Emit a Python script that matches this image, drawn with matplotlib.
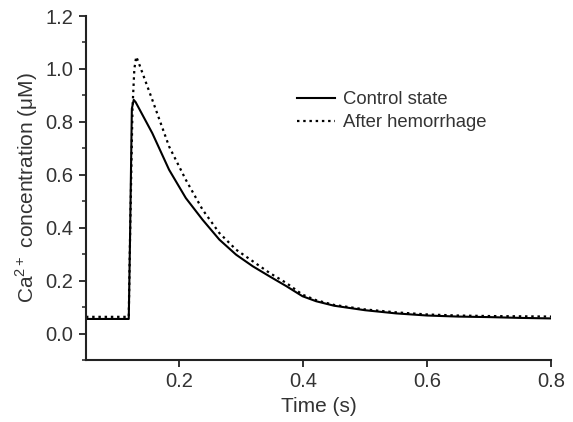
import numpy as np
import matplotlib
matplotlib.use("Agg")
import matplotlib.pyplot as plt
from matplotlib.ticker import MultipleLocator

plt.rcParams['font.family'] = ['Liberation Sans', 'DejaVu Sans']
plt.rcParams['mathtext.fontset'] = 'custom'
plt.rcParams['mathtext.rm'] = 'Liberation Sans'

# time (s) and Ca2+ concentration (uM)
t_control = [0.05, 0.119, 0.121, 0.124, 0.127, 0.13, 0.157, 0.184, 0.211, 0.238,
             0.265, 0.292, 0.319, 0.346, 0.373, 0.399, 0.421, 0.45, 0.5, 0.55,
             0.6, 0.65, 0.7, 0.75, 0.8]
control = [0.055, 0.055, 0.35, 0.85, 0.883, 0.875, 0.757, 0.619, 0.512, 0.430,
           0.355, 0.298, 0.254, 0.216, 0.179, 0.141, 0.122, 0.105, 0.088, 0.076,
           0.068, 0.064, 0.062, 0.059, 0.057]

t_hem = [0.05, 0.119, 0.121, 0.125, 0.128, 0.131, 0.134, 0.157, 0.184, 0.211,
         0.238, 0.265, 0.292, 0.319, 0.346, 0.373, 0.399, 0.421, 0.45, 0.5,
         0.55, 0.6, 0.65, 0.7, 0.75, 0.8]
hemorrhage = [0.063, 0.063, 0.35, 0.85, 1.0, 1.046, 1.03, 0.883, 0.707, 0.581,
              0.468, 0.38, 0.317, 0.273, 0.229, 0.191, 0.147, 0.126, 0.108, 0.091,
              0.08, 0.072, 0.068, 0.066, 0.065, 0.064]

txt = '#333333'
fig = plt.figure(figsize=(5.73, 4.22), dpi=100)
ax = fig.add_axes([0.150, 0.147, 0.812, 0.815])

ax.plot(t_control, control, color='black', lw=1.5, label='Control state')
ax.plot(t_hem, hemorrhage, color='black', lw=1.6, ls=(0, (1.1, 1.7)), label='After hemorrhage')

ax.set_xlim(0.05, 0.8)
ax.set_ylim(-0.1, 1.2)
ax.set_xticks([0.2, 0.4, 0.6, 0.8])
ax.yaxis.set_major_locator(MultipleLocator(0.2))
ax.yaxis.set_minor_locator(MultipleLocator(0.1))
ax.yaxis.set_major_formatter(plt.FuncFormatter(lambda v, p: f'{v:.1f}'))
ax.xaxis.set_major_formatter(plt.FuncFormatter(lambda v, p: f'{v:.1f}'))

for s in ['top', 'right']:
    ax.spines[s].set_visible(False)
for s in ['left', 'bottom']:
    ax.spines[s].set_linewidth(1.5)
    ax.spines[s].set_color('#222222')
ax.tick_params(which='major', length=5, width=1.3, labelsize=14.5, labelcolor=txt,
               color='#222222', pad=4)
ax.tick_params(which='minor', length=3, width=1.1, color='#222222')

ax.set_xlabel('Time (s)', fontsize=15, color=txt, labelpad=4)
ax.set_ylabel('Ca$^{2+}$ concentration (\u03bcM)', fontsize=15, color=txt, labelpad=4)

leg = ax.legend(loc='upper left', bbox_to_anchor=(0.454, 0.782), frameon=False,
                fontsize=13.3, handlelength=2.05, handletextpad=0.43, labelspacing=0.35,
                borderaxespad=0, borderpad=0)
for tx in leg.get_texts():
    tx.set_color(txt)

fig.savefig('out.png', dpi=100)
